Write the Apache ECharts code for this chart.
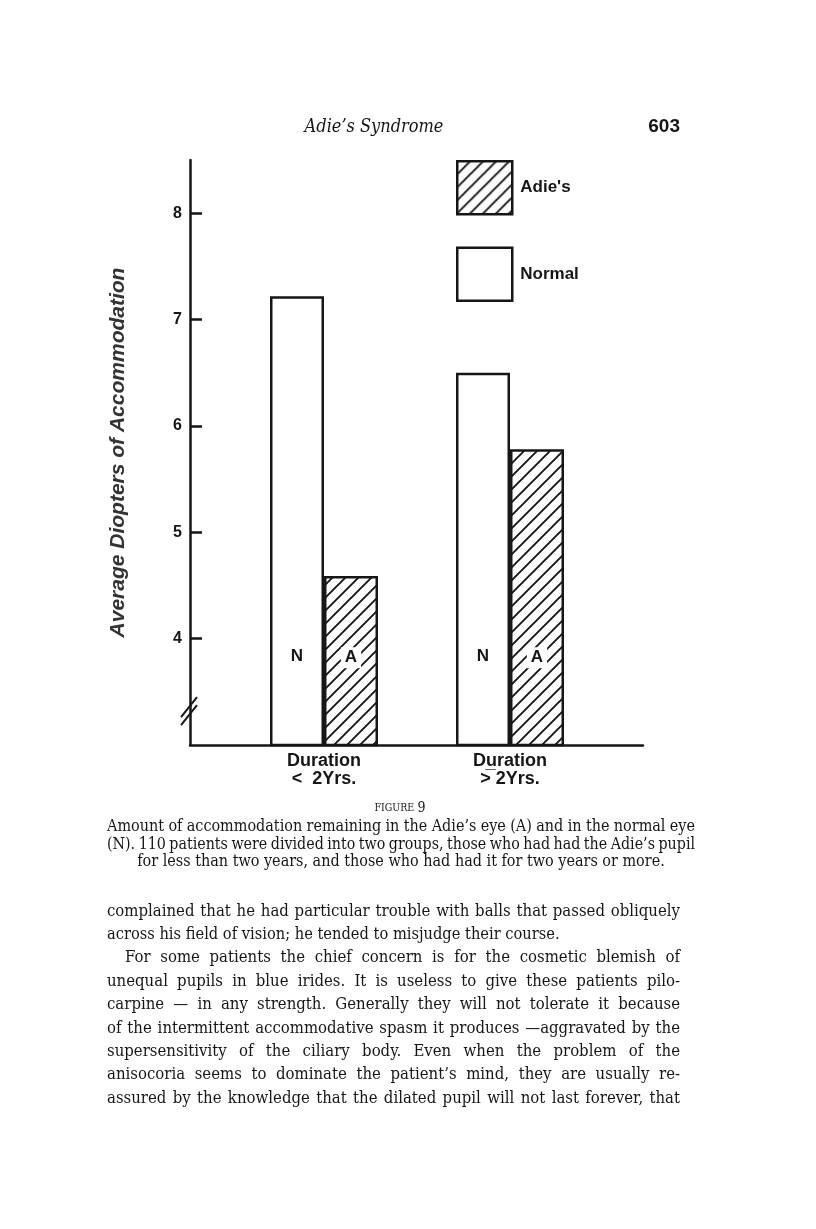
<!DOCTYPE html>
<html>
<head>
<meta charset="utf-8">
<script src="https://cdn.jsdelivr.net/npm/echarts@6/dist/echarts.min.js"></script>
<style>
  html, body { margin: 0; padding: 0; background: #fff; }
  #chart { width: 816px; height: 1229px; }
</style>
</head>
<body>
<div id="chart"></div>
<script>
// data
const categories = ['Duration\n<  2Yrs.', 'Duration\n>\u0305 2Yrs.']
const normalValues = [7.22, 6.5]
const adiesValues = [4.59, 5.78]
const yTicks = [4, 5, 6, 7, 8]
const legendNames = ["Adie's", 'Normal']

// page text
const headerTitle = 'Adie\u2019s Syndrome'
const pageNumber = '603'
const captionLines = [
  'Amount of accommodation remaining in the Adie\u2019s eye (A) and in the normal eye',
  '(N).  110 patients were divided into two groups, those who had had the Adie\u2019s pupil',
  'for less than two years, and those who had had it for two years or more.',
]
const bodyLines = [
  'complained that he had particular trouble with balls that passed obliquely',
  'across his field of vision; he tended to misjudge their course.',
  'For some patients the chief concern is for the cosmetic blemish of',
  'unequal pupils in blue irides.  It is useless to give these patients pilo-',
  'carpine \u2014 in any strength.  Generally they will not tolerate it because',
  'of the intermittent accommodative spasm it produces \u2014aggravated by the',
  'supersensitivity of the ciliary body.  Even when the problem of the',
  'anisocoria seems to dominate the patient\u2019s mind, they are usually re-',
  'assured by the knowledge that the dilated pupil will not last forever, that',
]

const ink = '#161616'
const sans = '"Liberation Sans", Arial, sans-serif'
const serif = '"DejaVu Serif Condensed", "DejaVu Serif", serif'

// diagonal hatch for the Adie's bars
function hatch() {
  const s = 13
  const c = document.createElement('canvas')
  c.width = s
  c.height = s
  const ctx = c.getContext('2d')
  ctx.fillStyle = '#fff'
  ctx.fillRect(0, 0, s, s)
  ctx.strokeStyle = ink
  ctx.lineWidth = 1.9
  ctx.beginPath()
  ctx.moveTo(-1, s + 1); ctx.lineTo(s + 1, -1)
  ctx.moveTo(-2, 2); ctx.lineTo(2, -2)
  ctx.moveTo(s - 2, s + 2); ctx.lineTo(s + 2, s - 2)
  ctx.stroke()
  return c
}

// lay words out between x0 and x1 (justified) or from x0 / centred (natural)
const measure = document.createElement('canvas').getContext('2d')
function textLine(text, y, opts) {
  const { x0, x1, family, style = 'normal', justify = true, center } = opts
  let size = opts.size
  const words = text.split(/ +/)
  measure.font = `${style} ${size}px ${family}`
  let widths = words.map((w) => measure.measureText(w).width)
  let total = widths.reduce((a, b) => a + b, 0)
  if (justify) {
    const natural = total + (words.length - 1) * size * 0.22
    if (natural > x1 - x0) {
      size = size * (x1 - x0) / natural
      measure.font = `${style} ${size}px ${family}`
      widths = words.map((w) => measure.measureText(w).width)
      total = widths.reduce((a, b) => a + b, 0)
    }
  }
  const base = { fontSize: size, fontFamily: family, fontStyle: style, fill: ink, verticalAlign: 'middle' }
  if (!justify) {
    return [{
      type: 'text', x: center != null ? center : x0, y,
      style: { ...base, text, align: center != null ? 'center' : 'left' },
    }]
  }
  const gap = (x1 - x0 - total) / (words.length - 1)
  let x = x0
  return words.map((w, i) => {
    const el = { type: 'text', x, y, style: { ...base, text: w, align: 'left' } }
    x += widths[i] + gap
    return el
  })
}

const graphics = []
graphics.push({
  type: 'text', x: 374, y: 127,
  style: { text: headerTitle, fontSize: 18, fontFamily: serif, fontStyle: 'italic', fill: ink, align: 'center', verticalAlign: 'middle' },
})
graphics.push({
  type: 'text', x: 680, y: 127,
  style: { text: pageNumber, fontSize: 19, fontWeight: 'bold', fontFamily: '"Liberation Sans Narrow", ' + sans, fill: ink, align: 'right', verticalAlign: 'middle' },
})
graphics.push({
  type: 'text', x: 400, y: 808,
  style: {
    text: '{a|FIGURE} {b|9}', fill: ink, align: 'center', verticalAlign: 'middle',
    rich: {
      a: { fontSize: 10.5, fontFamily: serif, fill: ink },
      b: { fontSize: 14, fontFamily: serif, fill: ink },
    },
  },
})
graphics.push(...textLine(captionLines[0], 827, { x0: 107, x1: 695, size: 16, family: serif }))
graphics.push(...textLine(captionLines[1], 845, { x0: 107, x1: 695, size: 16, family: serif }))
graphics.push(...textLine(captionLines[2], 862, { size: 16, family: serif, justify: false, center: 401 }))

const bodyY = [912, 935, 958, 982, 1005, 1029, 1052, 1075, 1099]
bodyLines.forEach((line, i) => {
  const x0 = i === 2 ? 125 : 107
  if (i === 1) {
    graphics.push(...textLine(line, bodyY[i], { x0, size: 16.3, family: serif, justify: false }))
  } else {
    graphics.push(...textLine(line, bodyY[i], { x0, x1: 680, size: 16.6, family: serif }))
  }
})

const chart = echarts.init(document.getElementById('chart'))

const hatchFill = { image: hatch(), repeat: 'repeat' }
const valueRange = { min: 3, max: 8.5 }
const labelFont = { fontFamily: sans, fontWeight: 'bold', color: ink }

const option = {
  backgroundColor: '#fff',
  animation: false,
  legend: {
    data: legendNames,
    orient: 'vertical',
    left: 451,
    top: 155,
    itemWidth: 55,
    itemHeight: 53,
    itemGap: 31,
    icon: 'rect',
    selectedMode: false,
    itemStyle: { borderColor: ink, borderWidth: 2.5 },
    textStyle: { ...labelFont, fontSize: 17, padding: [0, 0, 0, 3] },
  },
  grid: [
    // frame: the two axis lines
    { left: 190, top: 160, width: 453, height: 585 },
    // bars sit in a narrower band
    { left: 231, top: 160, width: 372, height: 585 },
  ],
  xAxis: [
    {
      gridIndex: 0, type: 'value', min: 0, max: 1,
      axisLine: { show: true, lineStyle: { color: ink, width: 2.5 } },
      axisTick: { show: false }, axisLabel: { show: false }, splitLine: { show: false },
    },
    {
      gridIndex: 1, type: 'category', data: categories,
      axisLine: { show: false }, axisTick: { show: false },
      axisLabel: { ...labelFont, margin: 7, fontSize: 18, lineHeight: 18 },
    },
  ],
  yAxis: [
    {
      gridIndex: 0, type: 'value', ...valueRange, interval: 1,
      name: 'Average Diopters of Accommodation',
      nameLocation: 'middle',
      nameRotate: 90,
      nameGap: 61,
      nameTextStyle: { fontSize: 21, fontStyle: 'italic', fontWeight: 'bold', fontFamily: sans, color: '#333' },
      axisLine: { show: true, lineStyle: { color: ink, width: 2.5 } },
      axisTick: { show: true, inside: true, length: 12, customValues: yTicks, lineStyle: { color: ink, width: 2.5 } },
      axisLabel: { ...labelFont, customValues: yTicks, margin: 8, fontSize: 16 },
      splitLine: { show: false },
    },
    { gridIndex: 1, type: 'value', ...valueRange, show: false, splitLine: { show: false } },
  ],
  series: [
    {
      name: 'Normal', type: 'bar', xAxisIndex: 1, yAxisIndex: 1,
      data: normalValues, barWidth: 54, barGap: 0,
      itemStyle: { color: '#fff', borderColor: ink, borderWidth: 2.5 },
      label: { ...labelFont, show: true, position: 'insideBottom', distance: 81, formatter: 'N', fontSize: 17 },
    },
    {
      name: "Adie's", type: 'bar', xAxisIndex: 1, yAxisIndex: 1,
      data: adiesValues, barWidth: 54, barGap: 0,
      itemStyle: { color: hatchFill, borderColor: ink, borderWidth: 2.5 },
      label: { ...labelFont, show: true, position: 'insideBottom', distance: 78, formatter: 'A', fontSize: 17,
        backgroundColor: '#fff', padding: [2, 4] },
    },
  ],
  graphic: graphics,
}

chart.setOption(option)

// axis-break slashes on the value axis
const bx = chart.convertToPixel({ xAxisIndex: 0 }, 0)
const by = chart.convertToPixel({ yAxisIndex: 0 }, 3.3)
chart.setOption({
  graphic: graphics.concat([
    { type: 'line', shape: { x1: bx - 9, y1: by + 12, x2: bx + 7, y2: by - 8 }, style: { stroke: ink, lineWidth: 2 } },
    { type: 'line', shape: { x1: bx - 9, y1: by + 4, x2: bx + 7, y2: by - 16 }, style: { stroke: ink, lineWidth: 2 } },
  ]),
})
</script>
</body>
</html>
